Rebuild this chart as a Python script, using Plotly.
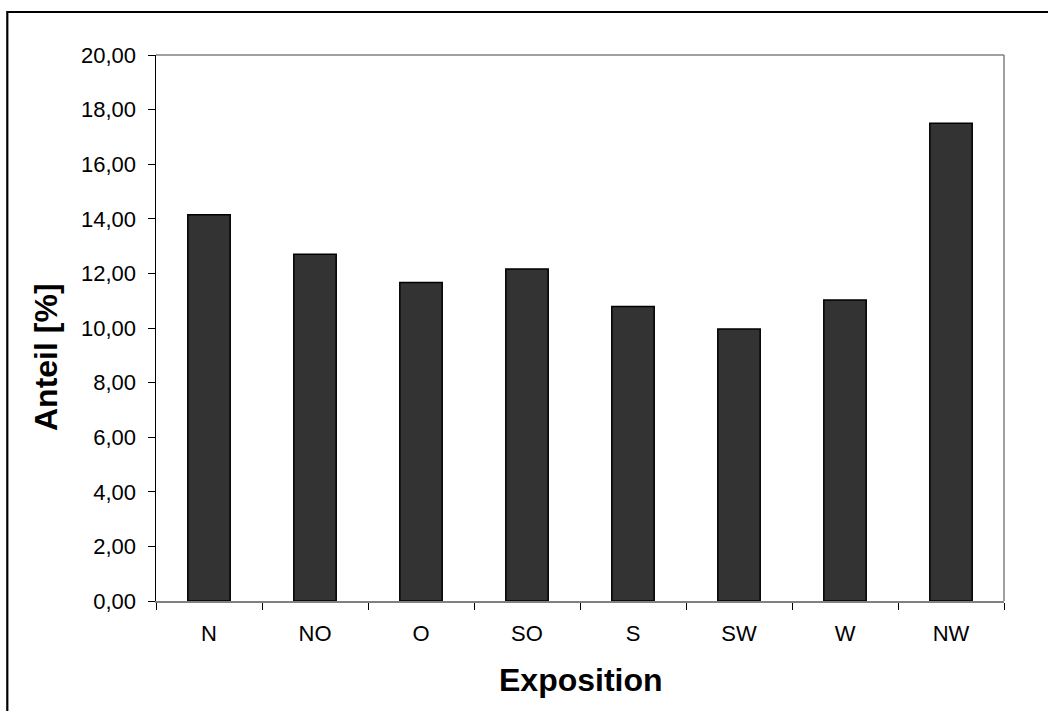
import plotly.graph_objects as go

categories = ["N", "NO", "O", "SO", "S", "SW", "W", "NW"]
anteil = [14.15, 12.70, 11.67, 12.16, 10.79, 9.96, 11.03, 17.50]
y_ticks = [0, 2, 4, 6, 8, 10, 12, 14, 16, 18, 20]

W, H = 1048, 711
L, R, T, B = 156, 44, 55, 110
pw, ph = W - L - R, H - T - B

def px_x(p):
    return (p - L) / pw

def px_y(p):
    return (H - B - p) / ph

fig = go.Figure(go.Bar(
    x=categories, y=anteil,
    marker=dict(color="#333333", line=dict(color="#000000", width=1.5)),
    width=0.4,
))

fig.update_layout(
    width=W, height=H,
    margin=dict(l=L, r=R, t=T, b=B, pad=0),
    paper_bgcolor="white", plot_bgcolor="white",
    separators=",.",
    showlegend=False,
    font=dict(family="Liberation Sans, Arial, sans-serif", color="#000000"),
    xaxis=dict(
        showgrid=False, zeroline=False,
        showline=True, linecolor="#808080", linewidth=1.5,
        ticks="outside", tickson="boundaries", ticklen=7, tickcolor="#000000", tickwidth=1,
        tickfont=dict(size=22, color="#000000"),
        ticklabelstandoff=12,
        mirror=False,
    ),
    yaxis=dict(
        range=[0, 20], tickvals=y_ticks, tickformat=".2f",
        showgrid=False, zeroline=False,
        showline=True, linecolor="#000000", linewidth=1.5,
        ticks="outside", ticklen=7, tickcolor="#000000", tickwidth=1,
        tickfont=dict(size=22, color="#000000"),
        ticklabelstandoff=7,
    ),
    shapes=[
        dict(type="line", xref="paper", yref="paper", x0=0, x1=1, y0=1, y1=1,
             line=dict(color="#808080", width=1.5)),
        dict(type="line", xref="paper", yref="paper", x0=1, x1=1, y0=0, y1=1,
             line=dict(color="#808080", width=1.5)),
        dict(type="rect", xref="paper", yref="paper",
             x0=px_x(7.3), x1=px_x(1070), y0=px_y(730), y1=px_y(12),
             line=dict(color="#000000", width=2.2), fillcolor="rgba(0,0,0,0)"),
    ],
    annotations=[
        dict(text="<b>Exposition</b>", xref="paper", yref="paper",
             x=px_x(581), y=px_y(680), xanchor="center", yanchor="middle",
             showarrow=False, font=dict(size=32, color="#000000")),
        dict(text="<b>Anteil [%]</b>", xref="paper", yref="paper",
             x=px_x(46), y=px_y(357), xanchor="center", yanchor="middle",
             textangle=-90, showarrow=False, font=dict(size=32, color="#000000")),
    ],
)

fig.write_html(
    "out.html",
    config={"displayModeBar": False, "staticPlot": True},
    post_script="document.body.style.margin='0';document.body.style.overflow='hidden';",
)
